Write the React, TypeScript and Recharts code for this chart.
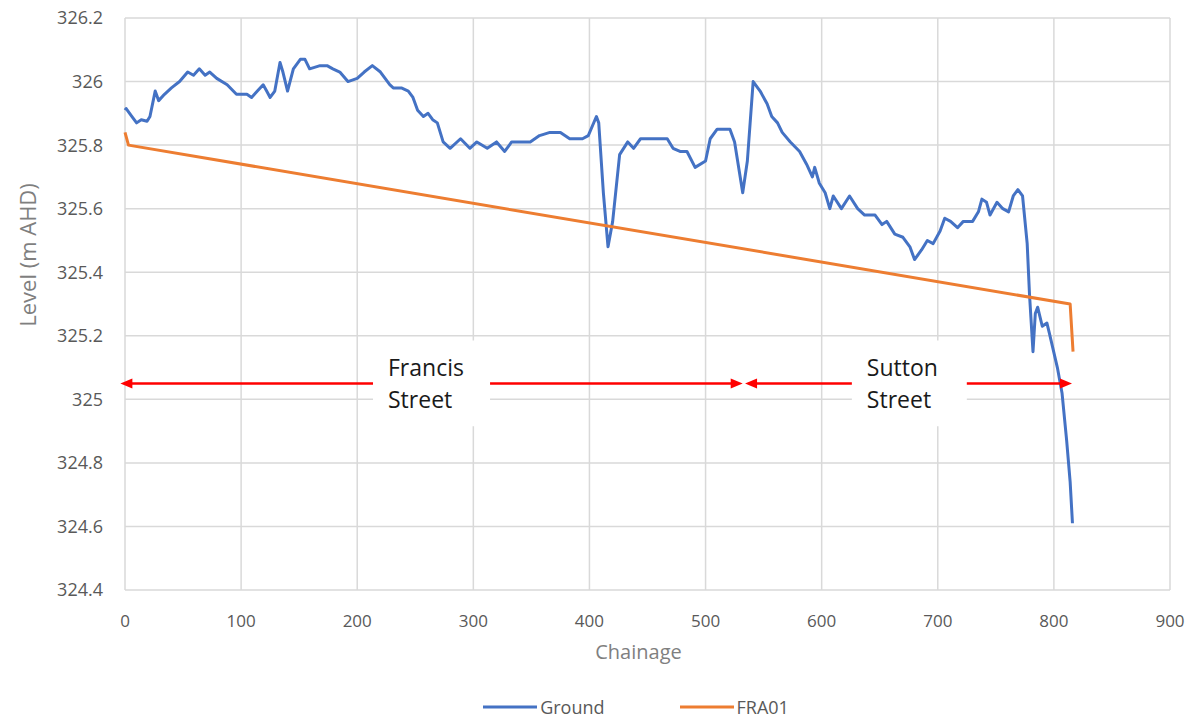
import React from 'react';
import { LineChart, Line, XAxis, YAxis, CartesianGrid, Legend, ReferenceLine, ReferenceArea } from 'recharts';

// Ground long-section
const groundChainage = [0, 1, 6, 10, 14, 19, 21.5, 26, 29, 34, 40, 47, 54, 59, 64, 69, 73, 79, 88, 96, 105, 109, 114, 119, 122, 125, 129, 133.5, 136, 140, 145, 151, 155, 159, 168, 174, 179, 185, 192, 200, 206, 213, 220, 228, 231, 238, 244, 248, 252, 257, 261, 265, 269, 274, 280, 289, 297, 303, 312, 320, 327, 333, 340, 349, 357, 366, 375, 383, 394, 399, 406, 408, 412, 416, 420, 426, 433, 438, 444, 452, 459, 467, 472, 478, 484, 491, 500, 504, 510, 515, 521, 525, 532, 536, 541, 547, 553, 557, 562, 566, 573, 581, 587, 592, 594, 598, 603, 607, 610, 617, 624, 631, 637, 646, 652, 656, 663, 670, 676, 680, 686, 691, 696, 702, 706, 711, 717, 722, 730, 735, 738, 742, 745, 751, 756, 761, 765, 769, 773, 777, 779, 782, 784, 786, 790, 794, 796, 803, 807, 811, 814, 816];
const groundLevel = [325.91, 325.915, 325.89, 325.87, 325.88, 325.875, 325.89, 325.97, 325.94, 325.96, 325.98, 326.0, 326.03, 326.02, 326.04, 326.02, 326.03, 326.01, 325.99, 325.96, 325.96, 325.95, 325.97, 325.99, 325.97, 325.95, 325.97, 326.06, 326.03, 325.97, 326.04, 326.07, 326.07, 326.04, 326.05, 326.05, 326.04, 326.03, 326.0, 326.01, 326.03, 326.05, 326.03, 325.99, 325.98, 325.98, 325.97, 325.95, 325.91, 325.89, 325.9, 325.88, 325.87, 325.81, 325.79, 325.82, 325.79, 325.81, 325.79, 325.81, 325.78, 325.81, 325.81, 325.81, 325.83, 325.84, 325.84, 325.82, 325.82, 325.83, 325.89, 325.87, 325.65, 325.48, 325.56, 325.77, 325.81, 325.79, 325.82, 325.82, 325.82, 325.82, 325.79, 325.78, 325.78, 325.73, 325.75, 325.82, 325.85, 325.85, 325.85, 325.81, 325.65, 325.75, 326.0, 325.97, 325.93, 325.89, 325.87, 325.84, 325.81, 325.78, 325.74, 325.7, 325.73, 325.68, 325.65, 325.6, 325.64, 325.6, 325.64, 325.6, 325.58, 325.58, 325.55, 325.56, 325.52, 325.51, 325.48, 325.44, 325.47, 325.5, 325.49, 325.53, 325.57, 325.56, 325.54, 325.56, 325.56, 325.59, 325.63, 325.62, 325.58, 325.62, 325.6, 325.59, 325.64, 325.66, 325.64, 325.49, 325.33, 325.15, 325.27, 325.29, 325.23, 325.24, 325.21, 325.1, 325.02, 324.87, 324.74, 324.61];

// FRA01 design grade
const fraChainage = [0, 3, 814, 816.5];
const fraLevel = [325.84, 325.8, 325.3, 325.15];

const seriesNames = ['Ground', 'FRA01'];

const xTicks = [0, 100, 200, 300, 400, 500, 600, 700, 800, 900];
const yTicks = [324.4, 324.6, 324.8, 325, 325.2, 325.4, 325.6, 325.8, 326, 326.2];

// street extents shown with arrows
const arrowLevel = 325.05;
const streets = [
  { name: ['Francis', 'Street'], from: -4, to: 532, boxFrom: 213.6, boxTo: 314.4 },
  { name: ['Sutton', 'Street'], from: 534, to: 815.6, boxFrom: 626, boxTo: 725 },
];
const boxTop = 325.185;
const boxBottom = 324.915;

const groundData = groundChainage.map((x, i) => ({ x, level: groundLevel[i] }));
const fraData = fraChainage.map((x, i) => ({ x, level: fraLevel[i] }));

const FONT = '"Open Sans", sans-serif';

const Arrow = (props: any) => {
  const { x1, y1, x2, y2, head } = props;
  const len = 12;
  const half = 5;
  if (head === 'start') {
    return (
      <g>
        <line x1={x1 + len - 1} y1={y1} x2={x2} y2={y2} stroke="#FF0000" strokeWidth={2.5} />
        <polygon points={`${x1},${y1} ${x1 + len},${y1 - half} ${x1 + len},${y1 + half}`} fill="#FF0000" />
      </g>
    );
  }
  return (
    <g>
      <line x1={x1} y1={y1} x2={x2 - len + 1} y2={y2} stroke="#FF0000" strokeWidth={2.5} />
      <polygon points={`${x2},${y2} ${x2 - len},${y2 - half} ${x2 - len},${y2 + half}`} fill="#FF0000" />
    </g>
  );
};

const StreetLabel = ({ viewBox, lines }: any) => {
  if (!viewBox) return null;
  return (
    <text x={viewBox.x + 15} y={viewBox.y + 35} fontFamily={FONT} fontSize={23} fill="#1a1a1a">
      <tspan x={viewBox.x + 15}>{lines[0]}</tspan>
      <tspan x={viewBox.x + 15} dy={32}>{lines[1]}</tspan>
    </text>
  );
};

const LegendContent = ({ payload }: any) => {
  const items = [...(payload || [])].sort(
    (a: any, b: any) => seriesNames.indexOf(a.value) - seriesNames.indexOf(b.value)
  );
  return (
    <div style={{ height: 22, paddingTop: 6, paddingLeft: 102, display: 'flex', justifyContent: 'center', alignItems: 'center', fontFamily: FONT, fontSize: 18, color: '#595959' }}>
      {items.map((p: any, i: number) => (
        <div key={i} style={{ display: 'flex', alignItems: 'center', marginLeft: i ? 75 : 0 }}>
          <svg width={54} height={6}><line x1={0} y1={3} x2={54} y2={3} stroke={p.color} strokeWidth={3} /></svg>
          <span style={{ marginLeft: 3 }}>{p.value}</span>
        </div>
      ))}
    </div>
  );
};

const fmt = (v: number) => String(Number(v.toFixed(1)));

export default function App() {
  return (
    <div style={{ position: 'absolute', left: 0, top: 0, width: 1194, height: 718, background: '#fff' }}>
      <LineChart width={1194} height={718} margin={{ top: 18, right: 24, left: 0, bottom: 0 }}>
        <CartesianGrid stroke="#d9d9d9" strokeWidth={1.5} />
        <XAxis
          type="number"
          dataKey="x"
          domain={[0, 900]}
          ticks={xTicks}
          axisLine={false}
          tickLine={false}
          tickSize={0}
          tickMargin={25}
          height={100}
          tick={{ fill: '#595959', fontSize: 17, fontFamily: FONT }}
          label={{
            content: ({ viewBox }: any) => (
              <text x={viewBox.x + viewBox.width / 2 - 9} y={viewBox.y + 69} textAnchor="middle" fontFamily={FONT} fontSize={20} fill="#7f7f7f">
                Chainage
              </text>
            ),
          }}
        />
        <YAxis
          type="number"
          domain={[324.4, 326.2]}
          ticks={yTicks}
          tickFormatter={fmt}
          axisLine={false}
          tickLine={false}
          tickSize={0}
          tickMargin={22}
          width={125}
          tick={{ fill: '#595959', fontSize: 18, fontFamily: FONT }}
          label={{
            content: ({ viewBox }: any) => {
              const cx = viewBox.x + 30;
              const cy = viewBox.y + viewBox.height / 2 - 49;
              return (
                <text x={cx} y={cy} transform={`rotate(-90 ${cx} ${cy})`} textAnchor="middle" dominantBaseline="middle" fontFamily={FONT} fontSize={22} fill="#7f7f7f">
                  Level (m AHD)
                </text>
              );
            },
          }}
        />
        <Legend verticalAlign="bottom" content={<LegendContent />} />
        <Line data={groundData} dataKey="level" name="Ground" type="linear" stroke="#4472C4" strokeWidth={3} strokeLinejoin="round" dot={false} activeDot={false} isAnimationActive={false} />
        <Line data={fraData} dataKey="level" name="FRA01" type="linear" stroke="#ED7D31" strokeWidth={3} strokeLinejoin="round" dot={false} activeDot={false} isAnimationActive={false} />
        {streets.map((s, i) => (
          <ReferenceLine
            key={`a${i}`}
            ifOverflow="visible"
            segment={[{ x: s.from, y: arrowLevel }, { x: s.boxFrom, y: arrowLevel }]}
            shape={(p: any) => <Arrow {...p} head="start" />}
          />
        ))}
        {streets.map((s, i) => (
          <ReferenceLine
            key={`b${i}`}
            ifOverflow="visible"
            segment={[{ x: s.boxTo, y: arrowLevel }, { x: s.to, y: arrowLevel }]}
            shape={(p: any) => <Arrow {...p} head="end" />}
          />
        ))}
        {streets.map((s, i) => (
          <ReferenceArea
            key={`r${i}`}
            x1={s.boxFrom}
            x2={s.boxTo}
            y1={boxBottom}
            y2={boxTop}
            fill="#ffffff"
            fillOpacity={1}
            stroke="none"
            label={<StreetLabel lines={s.name} />}
          />
        ))}
      </LineChart>
    </div>
  );
}
